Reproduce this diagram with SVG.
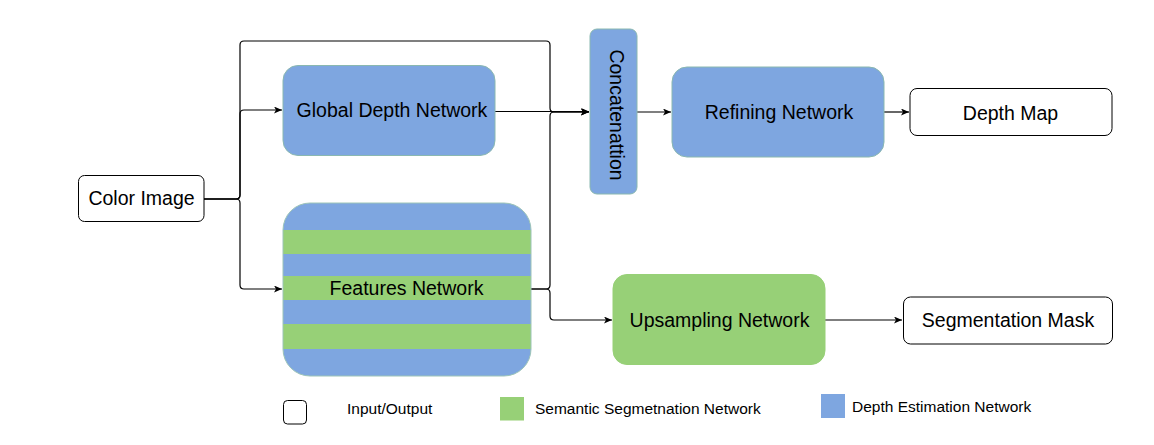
<svg xmlns="http://www.w3.org/2000/svg" width="1154" height="445" viewBox="0 0 1154 445">
<style>
  .lbl{font-family:"Liberation Sans",Arial,sans-serif;font-size:19.5px;fill:#000;text-anchor:middle}
  .leg{font-family:"Liberation Sans",Arial,sans-serif;font-size:15.5px;fill:#000}
  .io{fill:#fff;stroke:#000;stroke-width:1}
  .blue{fill:#7EA6E0;stroke:#8ab8b0;stroke-width:1}
  .green{fill:#97D077;stroke:#97D077;stroke-width:1}
  .edge{fill:none;stroke:#000;stroke-width:1.2}
</style>
<defs>
  <marker id="arr" markerWidth="9" markerHeight="8" refX="8" refY="3.5" orient="auto" markerUnits="userSpaceOnUse">
    <path d="M0,0 L8,3.5 L0,7 L2,3.5 z" fill="#000"/>
  </marker>
  <clipPath id="featClip">
    <rect x="283" y="203" width="248" height="173" rx="27" ry="27"/>
  </clipPath>
</defs>
<rect width="1154" height="445" fill="#fff"/>

<g id="connectors">
  <path class="edge" d="M204,199 H236 Q240,199 240,195 V114 Q240,110 244,110 H282" marker-end="url(#arr)"/>
  <path class="edge" d="M204,199 H236 Q240,199 240,203 V285 Q240,289 244,289 H282" marker-end="url(#arr)"/>
  <path class="edge" d="M204,199 H236 Q240,199 240,195 V45 Q240,41 244,41 H546 Q550,41 550,45 V108 Q550,112 554,112 H589" marker-end="url(#arr)"/>
  <path class="edge" d="M495,111.5 H589" stroke-width="1" marker-end="url(#arr)"/>
  <path class="edge" d="M531,289 H546 Q550,289 550,285 V116 Q550,112 554,112 H589" marker-end="url(#arr)"/>
  <path class="edge" d="M531,289 H546 Q550,289 550,293 V316 Q550,320 554,320 H612" marker-end="url(#arr)"/>
  <path class="edge" d="M637,112 H671" marker-end="url(#arr)"/>
  <path class="edge" d="M884,112 H909" marker-end="url(#arr)"/>
  <path class="edge" d="M825,320 H902" marker-end="url(#arr)"/>
</g>

<g id="color-image">
  <rect class="io" x="78.5" y="175.5" width="125.5" height="46" rx="6"/>
  <text class="lbl" x="141.5" y="204.5">Color Image</text>
</g>

<g id="global-depth">
  <rect class="blue" x="283" y="65.5" width="212" height="90" rx="15"/>
  <text class="lbl" x="392" y="117">Global Depth Network</text>
</g>

<g id="features">
  <g clip-path="url(#featClip)">
    <rect x="283" y="203" width="248" height="27" fill="#7EA6E0"/>
    <rect x="283" y="230" width="248" height="24" fill="#97D077"/>
    <rect x="283" y="254" width="248" height="22" fill="#7EA6E0"/>
    <rect x="283" y="276" width="248" height="24" fill="#97D077"/>
    <rect x="283" y="300" width="248" height="24" fill="#7EA6E0"/>
    <rect x="283" y="324" width="248" height="25" fill="#97D077"/>
    <rect x="283" y="349" width="248" height="27" fill="#7EA6E0"/>
  </g>
  <rect x="283" y="203" width="248" height="173" rx="27" fill="none" stroke="#9cc4b8" stroke-width="1"/>
  <text class="lbl" x="406.5" y="295">Features Network</text>
</g>

<g id="concatenation">
  <rect class="blue" x="590" y="29" width="47" height="165" rx="7"/>
  <text class="lbl" transform="translate(609.5,115) rotate(90)" x="0" y="0">Concatenattion</text>
</g>

<g id="refining">
  <rect class="blue" x="672" y="67" width="212" height="90" rx="15"/>
  <text class="lbl" x="779" y="119">Refining Network</text>
</g>

<g id="depth-map">
  <rect class="io" x="910" y="88.5" width="202" height="47" rx="7"/>
  <text class="lbl" x="1010.5" y="119.5">Depth Map</text>
</g>

<g id="upsampling">
  <rect class="green" x="613" y="274.5" width="212" height="90" rx="14"/>
  <text class="lbl" x="719.5" y="327">Upsampling Network</text>
</g>

<g id="segmentation-mask">
  <rect class="io" x="903.5" y="297" width="209" height="47" rx="7"/>
  <text class="lbl" x="1008" y="327">Segmentation Mask</text>
</g>

<g id="legend">
  <rect class="io" x="283.5" y="400.5" width="23" height="23.5" rx="4"/>
  <text class="leg" x="347" y="414">Input/Output</text>
  <rect x="500" y="397" width="24" height="23.5" fill="#97D077"/>
  <text class="leg" x="535" y="414">Semantic Segmetnation Network</text>
  <rect x="821" y="394" width="24" height="24" fill="#7EA6E0"/>
  <text class="leg" x="852" y="412">Depth Estimation Network</text>
</g>
</svg>
